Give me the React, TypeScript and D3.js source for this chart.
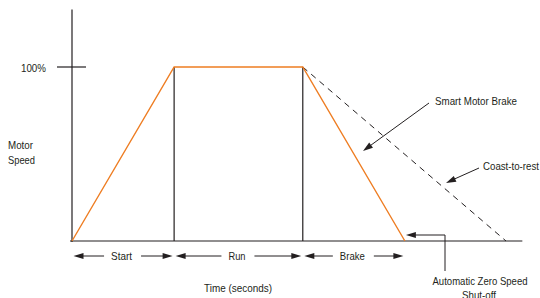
import React from "react";
import * as d3 from "d3";

// phase boundaries in time units (start ends, run ends, brake ends)
const phaseNames = ["Start", "Run", "Brake"];
const phaseTimes = [0, 2, 4.52, 6.52];
// motor speed profile with the smart motor brake (% of full speed)
const brakeTimes = [0, 2, 4.52, 6.52];
const brakeSpeeds = [0, 100, 100, 0];
// coast-to-rest curve
const coastTimes = [4.52, 8.5];
const coastSpeeds = [100, 0];
const yTickValues = [100];
const yTickLabels = ["100%"];

const W = 540;
const H = 298;
const FONT = "'Liberation Sans', Arial, sans-serif";
const INK = "#231f20";
const FS = 11.5;

// label widths measured from the (condensed) original type
const phaseWidths = [21, 17, 25];

export default function App() {
  const x = d3.scaleLinear().domain([0, 8.5]).range([72, 506]);
  const y = d3.scaleLinear().domain([0, 100]).range([241, 67]);

  const brakePts: [number, number][] = brakeTimes.map((t, i) => [x(t), y(brakeSpeeds[i])]);
  const coastPts: [number, number][] = coastTimes.map((t, i) => [x(t), y(coastSpeeds[i])]);
  const line = d3.line();

  // filled arrowhead, tip at (x2,y2), pointing away from (x1,y1)
  const head = (x1: number, y1: number, x2: number, y2: number, len = 10, half = 3) => {
    const a = Math.atan2(y2 - y1, x2 - x1);
    const bx = x2 - len * Math.cos(a);
    const by = y2 - len * Math.sin(a);
    const px = -Math.sin(a) * half;
    const py = Math.cos(a) * half;
    return `M${x2},${y2}L${bx + px},${by + py}L${bx - px},${by - py}Z`;
  };

  const T = (props: { x: number; y: number; w: number; anchor?: string; children: string }) => (
    <text x={props.x} y={props.y} textAnchor={props.anchor ?? "start"} fontSize={FS} fill={INK}
      textLength={props.w} lengthAdjust="spacingAndGlyphs">{props.children}</text>
  );

  const rowY = 256;
  const endX = x(brakeTimes[3]);

  return (
    <svg width={W} height={H} style={{ position: "absolute", left: 0, top: 0, background: "#fff" }}
      fontFamily={FONT}>
      {/* axes */}
      <line x1={x(0)} x2={x(0)} y1={y(133)} y2={y(0) + 1} stroke={INK} strokeWidth={1.2} />
      <line x1={x(0) - 2} x2={x(8.82)} y1={y(0)} y2={y(0)} stroke={INK} strokeWidth={1.2} />
      {yTickValues.map((v, i) => (
        <g key={v}>
          <line x1={x(0) - 15} x2={x(0) + 14} y1={y(v)} y2={y(v)} stroke={INK} strokeWidth={1.2} />
          <T x={46} y={y(v) + 5} w={25} anchor="end">{yTickLabels[i]}</T>
        </g>
      ))}
      <T x={8} y={149} w={25}>Motor</T>
      <T x={8} y={164} w={27}>Speed</T>

      {/* phase separators */}
      {[phaseTimes[1], phaseTimes[2]].map((t) => (
        <line key={t} x1={x(t)} x2={x(t)} y1={y(100)} y2={y(0)} stroke={INK} strokeWidth={1.2} />
      ))}

      {/* coast-to-rest dashed */}
      <path d={line(coastPts) ?? ""} fill="none" stroke={INK} strokeWidth={1} strokeDasharray="6,5" />
      {/* smart motor brake profile */}
      <path d={line(brakePts) ?? ""} fill="none" stroke="#ee7d22" strokeWidth={1.4} />

      {/* phase arrows */}
      {phaseNames.map((name, i) => {
        const a = x(phaseTimes[i]) + 1.5;
        const b = x(phaseTimes[i + 1]) - 1.5;
        const c = (a + b) / 2 - 1.5;
        const hw = phaseWidths[i] / 2;
        return (
          <g key={name}>
            <line x1={a + 5} x2={c - hw - 7} y1={rowY} y2={rowY} stroke={INK} strokeWidth={1} />
            <line x1={c + hw + 9} x2={b - 5} y1={rowY} y2={rowY} stroke={INK} strokeWidth={1} />
            <path d={head(a + 10, rowY, a, rowY)} fill={INK} />
            <path d={head(b - 10, rowY, b, rowY)} fill={INK} />
            <T x={c} y={rowY + 4} w={phaseWidths[i]} anchor="middle">{name}</T>
          </g>
        );
      })}

      <T x={238} y={292} w={68} anchor="middle">Time (seconds)</T>

      {/* Smart Motor Brake annotation */}
      <T x={435} y={105} w={82}>Smart Motor Brake</T>
      <line x1={429} y1={103} x2={367} y2={148} stroke={INK} strokeWidth={1} />
      <path d={head(429, 103, 363, 151, 10, 3.2)} fill={INK} />

      {/* Coast-to-rest annotation */}
      <T x={483} y={170} w={56}>Coast-to-rest</T>
      <line x1={479} y1={168} x2={450} y2={181} stroke={INK} strokeWidth={1} />
      <path d={head(479, 168, 446, 183, 10, 3.2)} fill={INK} />

      {/* zero speed shut-off annotation */}
      <path d={`M445,271V235H${endX + 6}`} fill="none" stroke={INK} strokeWidth={1} />
      <path d={head(445, 235, endX + 1, 235)} fill={INK} />
      <T x={480} y={285} w={95} anchor="middle">Automatic Zero Speed</T>
      <T x={479} y={299} w={34} anchor="middle">Shut-off</T>
    </svg>
  );
}
